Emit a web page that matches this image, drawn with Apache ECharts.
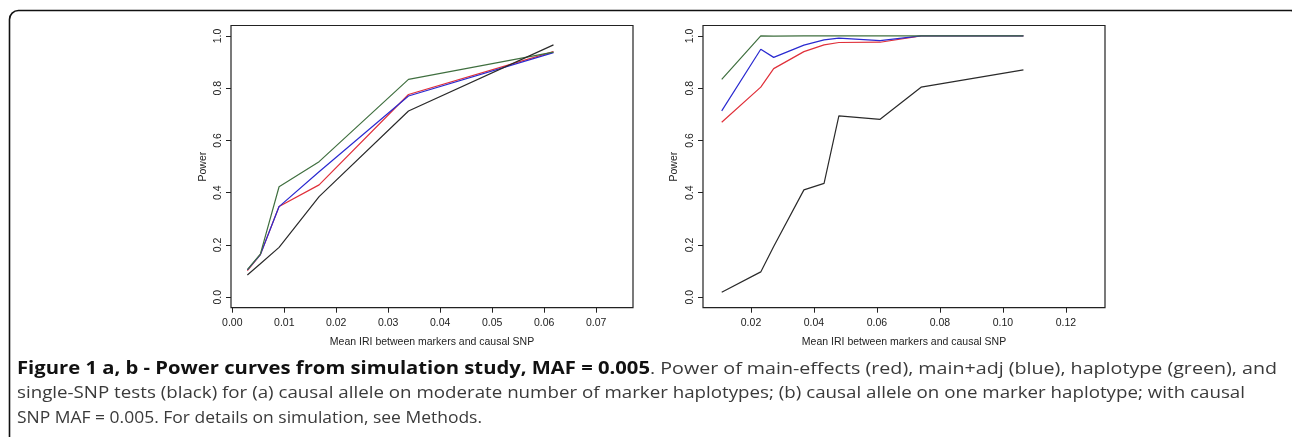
<!DOCTYPE html>
<html>
<head>
<meta charset="utf-8">
<script src="https://cdn.jsdelivr.net/npm/echarts@6/dist/echarts.min.js"></script>
<style>html,body{margin:0;padding:0;background:#fff}#c{width:1292px;height:437px}</style>
</head>
<body>
<div id="c"></div>
<script>
// ---- data ----
const leftX = [0.0029, 0.0054, 0.0090, 0.0167, 0.0339, 0.0618];
const leftRed = [0.102, 0.163, 0.347, 0.430, 0.776, 0.940];
const leftBlue = [0.105, 0.163, 0.347, 0.480, 0.770, 0.936];
const leftGreen = [0.106, 0.165, 0.423, 0.519, 0.834, 0.938];
const leftBlack = [0.085, 0.128, 0.191, 0.385, 0.713, 0.966];

const rightX = [0.0107, 0.0231, 0.0272, 0.0368, 0.0432, 0.0479, 0.0610, 0.0740, 0.1065];
const rightRed = [0.670, 0.804, 0.875, 0.940, 0.966, 0.975, 0.976, 1.0, 1.0];
const rightBlue = [0.713, 0.949, 0.918, 0.965, 0.985, 0.992, 0.982, 1.0, 1.0];
const rightGreen = [0.834, 1.0, 0.999, 1.0, 1.0, 1.0, 1.0, 1.0, 1.0];
const rightBlack = [0.019, 0.097, 0.194, 0.411, 0.436, 0.694, 0.681, 0.804, 0.870];

const leftXTicks = [0, 0.01, 0.02, 0.03, 0.04, 0.05, 0.06, 0.07];
const rightXTicks = [0.02, 0.04, 0.06, 0.08, 0.10, 0.12];
const yTicks = [0, 0.2, 0.4, 0.6, 0.8, 1.0];

const xTitle = 'Mean IRI between markers and causal SNP';
const yTitle = 'Power';
const capBold = 'Figure 1 a, b - Power curves from simulation study, MAF = 0.005';
const capLine1 = '. Power of main-effects (red), main+adj (blue), haplotype (green), and';
const capLine2 = 'single-SNP tests (black) for (a) causal allele on moderate number of marker haplotypes; (b) causal allele on one marker haplotype; with causal';
const capLine3 = 'SNP MAF = 0.005. For details on simulation, see Methods.';

const colors = {red: '#e0303a', blue: '#2a2ad0', green: '#3f6f3f', black: '#2a2a2a'};

function pairs(xs, ys) { return xs.map((x, i) => [x, ys[i]]); }

const axisFont = 'Liberation Sans, Arial, sans-serif';
function xAxisDef(gi, min, max, ticks) {
  return {
    type: 'value', gridIndex: gi, min: min, max: max,
    axisLine: {show: false, onZero: false},
    splitLine: {show: false},
    axisTick: {show: true, length: 5, lineStyle: {color: '#222', width: 1}, customValues: ticks},
    axisLabel: {customValues: ticks, margin: 10, fontSize: 10.5, color: '#222', fontFamily: axisFont,
      formatter: v => v.toFixed(2)},
    name: xTitle, nameLocation: 'middle', nameGap: 29,
    nameTextStyle: {fontSize: 10.5, color: '#222', fontFamily: axisFont}
  };
}
function yAxisDef(gi, gap) {
  return {
    type: 'value', gridIndex: gi, min: -0.04, max: 1.04,
    axisLine: {show: false, onZero: false},
    splitLine: {show: false},
    axisTick: {show: true, length: 5, lineStyle: {color: '#222', width: 1}, customValues: yTicks},
    axisLabel: {customValues: yTicks, rotate: 90, margin: 7, fontSize: 10.5, color: '#222', fontFamily: axisFont,
      formatter: v => v.toFixed(1)},
    name: yTitle, nameLocation: 'middle', nameGap: gap, nameRotate: 90,
    nameTextStyle: {fontSize: 10.5, color: '#222', fontFamily: axisFont}
  };
}
function line(xi, data, color) {
  return {type: 'line', xAxisIndex: xi, yAxisIndex: xi, data: data, showSymbol: false, symbol: 'none',
    lineStyle: {color: color, width: 1.2}, silent: true, animation: false};
}

// caption layout: measure natural widths, stretch to match the reference widths
const capSize = 17;
const capFont = '"Open Sans", sans-serif';
const mctx = document.createElement('canvas').getContext('2d');
function textW(t, bold) { mctx.font = (bold ? 'bold ' : '') + capSize + 'px ' + capFont; return mctx.measureText(t).width; }
const capX = 17;
const boldTarget = 633, line1Target = 627, line2Target = 1228, line3Target = 465;
const sBold = boldTarget / textW(capBold, true);
const sL1 = line1Target / textW(capLine1, false);
const sL2 = line2Target / textW(capLine2, false);
const sL3 = line3Target / textW(capLine3, false);
function capText(x, y, txt, s, bold, fill) {
  return {type: 'text', x: x, y: y, scaleX: s, silent: true,
    style: {text: txt, fontFamily: capFont, fontSize: capSize, fontWeight: bold ? 'bold' : 'normal',
      fill: fill, textVerticalAlign: 'middle', verticalAlign: 'middle', align: 'left'}};
}

const chart = echarts.init(document.getElementById('c'), null, {renderer: 'canvas'});
chart.setOption({
  animation: false,
  backgroundColor: '#fff',
  grid: [
    {left: 231, width: 402, top: 25.5, height: 282.2, show: true, borderColor: '#222', borderWidth: 1.2, backgroundColor: 'transparent'},
    {left: 703, width: 402, top: 25.5, height: 282.2, show: true, borderColor: '#222', borderWidth: 1.2, backgroundColor: 'transparent'}
  ],
  xAxis: [
    xAxisDef(0, -0.00025, 0.0771, leftXTicks),
    xAxisDef(1, 0.00476, 0.1324, rightXTicks)
  ],
  yAxis: [yAxisDef(0, 22), yAxisDef(1, 23)],
  series: [
    line(0, pairs(leftX, leftRed), colors.red),
    line(0, pairs(leftX, leftBlue), colors.blue),
    line(0, pairs(leftX, leftGreen), colors.green),
    line(0, pairs(leftX, leftBlack), colors.black),
    line(1, pairs(rightX, rightRed), colors.red),
    line(1, pairs(rightX, rightBlue), colors.blue),
    line(1, pairs(rightX, rightGreen), colors.green),
    line(1, pairs(rightX, rightBlack), colors.black)
  ],
  graphic: [
    {type: 'rect', shape: {x: 9.5, y: 10.5, width: 1290, height: 460, r: 9},
      style: {fill: 'none', stroke: '#111', lineWidth: 1.6}, silent: true, z: -1},
    capText(capX, 369, capBold, sBold, true, '#111'),
    capText(capX + boldTarget, 369, capLine1, sL1, false, '#3a3a3a'),
    capText(capX, 393.5, capLine2, sL2, false, '#3a3a3a'),
    capText(capX, 418, capLine3, sL3, false, '#3a3a3a')
  ]
});
</script>
</body>
</html>
